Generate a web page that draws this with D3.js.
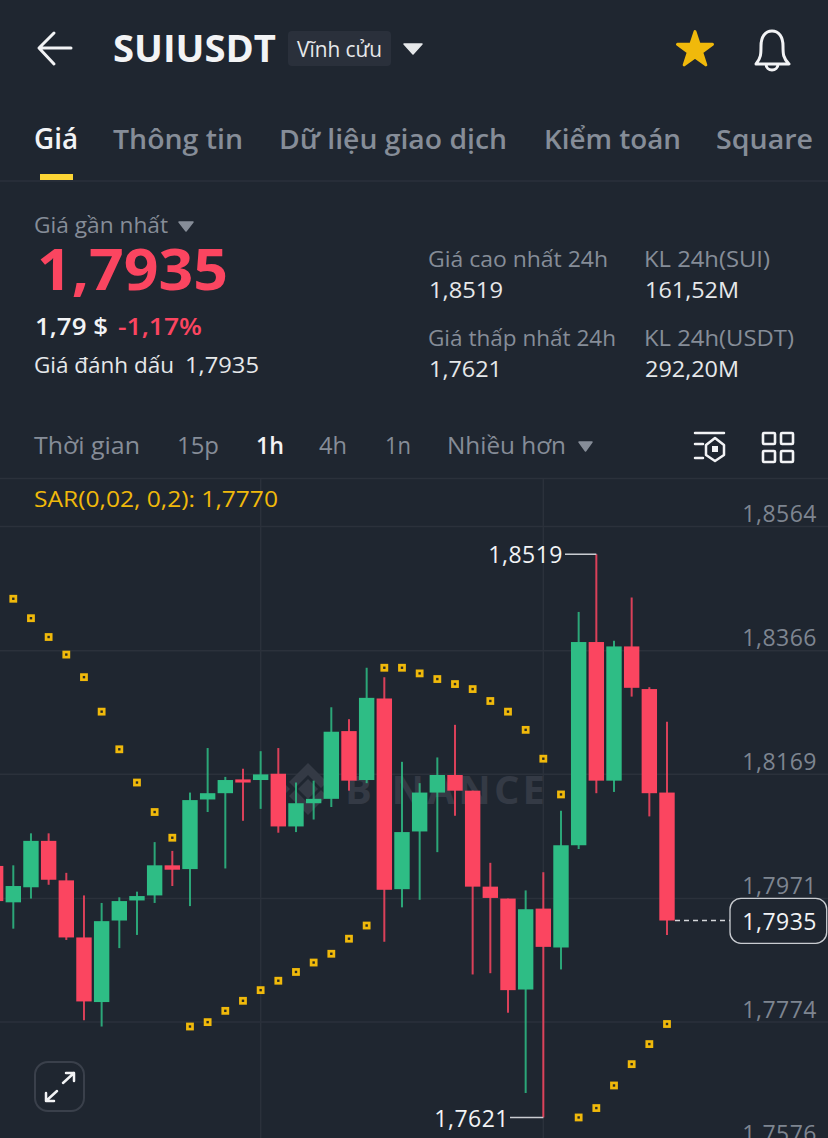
<!DOCTYPE html>
<html><head><meta charset="utf-8">
<script src="https://cdn.jsdelivr.net/npm/d3@7/dist/d3.min.js"></script>
<style>
html,body{margin:0;padding:0;background:#1f2630;overflow:hidden}
svg{display:block}
text{font-family:"Open Sans","Noto Sans",sans-serif}
</style></head><body>
<svg id="c" width="828" height="1138"></svg>
<script>
// ---- chart data (prices), candle index -1 .. 37
const candleIndex = d3.range(-1, 38);
const opens  = [1.8022,1.7964,1.7988,1.8062,1.7999,1.7908,1.7805,1.7935,1.7967,1.7975,1.8023,1.8017,1.8128,1.8138,1.8160,1.8159,1.8169,1.8085,1.8122,1.8129,1.8237,1.8159,1.8289,1.7985,1.8077,1.8139,1.8167,1.8142,1.7989,1.7970,1.7825,1.7954,1.7892,1.8055,1.8379,1.8158,1.8372,1.8304,1.8139];
const closes = [1.7966,1.7990,1.8062,1.8000,1.7908,1.7806,1.7934,1.7966,1.7974,1.8023,1.8016,1.8127,1.8138,1.8159,1.8155,1.8168,1.8085,1.8122,1.8129,1.8236,1.8158,1.8290,1.7984,1.8076,1.8139,1.8167,1.8142,1.7989,1.7971,1.7824,1.7953,1.7893,1.8055,1.8379,1.8158,1.8372,1.8306,1.8138,1.7935];
const highs  = [1.8022,1.8023,1.8074,1.8074,1.8011,1.7975,1.7963,1.7972,1.7981,1.8060,1.8046,1.8139,1.8210,1.8164,1.8177,1.8205,1.8210,1.8155,1.8158,1.8275,1.8256,1.8338,1.8323,1.8188,1.8154,1.8195,1.8247,1.8142,1.8027,1.7970,1.7983,1.8012,1.8110,1.8427,1.8519,1.8381,1.8450,1.8307,1.8252];
const lows   = [1.7966,1.7922,1.7970,1.7992,1.7904,1.7776,1.7766,1.7891,1.7912,1.7963,1.7990,1.7958,1.8108,1.8018,1.8094,1.8113,1.8075,1.8076,1.8096,1.8116,1.8142,1.8154,1.7901,1.7956,1.7968,1.8044,1.8102,1.7849,1.7851,1.7788,1.7660,1.7621,1.7857,1.8049,1.8138,1.8140,1.8292,1.8101,1.7912];
// Parabolic SAR, candle index 0 .. 37
const sarValues = [1.8448,1.8417,1.8387,1.8359,1.8323,1.8268,1.8208,1.8155,1.8108,1.8067,1.7766,1.7773,1.7791,1.7807,1.7824,1.7839,1.7853,1.7868,1.7882,1.7906,1.7927,1.8338,1.8338,1.8329,1.8320,1.8312,1.8304,1.8285,1.8268,1.8239,1.8193,1.8136,1.7621,1.7636,1.7672,1.7706,1.7738,1.7770];
const priceTicks = [1.8564,1.8366,1.8169,1.7971,1.7774,1.7576];
const verticalGridIndex = [14,30];
const lastPrice = 1.7935, dayHigh = 1.8519, dayLow = 1.7621;
const fmt = v => v.toFixed(4).replace('.', ',');

const BG='#1f2630', LINE='#2b313b', GRAY='#868d98', WHITE='#f2f3f5', RED='#fb4560', GREEN='#2ebd85', YEL='#f0b90b';
const svg = d3.select('#c');
svg.append('rect').attr('width',828).attr('height',1138).attr('fill',BG);

// ---- scales
const x = d3.scaleLinear().domain([0,37]).range([13.3,667]);
const y = d3.scaleLinear().domain([1.8564,1.7774]).range([526,1021.5]);
const candles = candleIndex.map((i,k)=>({i,o:opens[k],c:closes[k],h:highs[k],l:lows[k]}));

// ---- grid and axis
const chart = svg.append('g');
chart.selectAll('line.v').data(verticalGridIndex).join('line').attr('class','v')
  .attr('x1',d=>x(d)).attr('x2',d=>x(d)).attr('y1',479).attr('y2',1138).attr('stroke',LINE).attr('stroke-width',1.5);
const axis = chart.append('g').call(d3.axisRight(y).tickValues(priceTicks).tickFormat(fmt).tickSize(828));
axis.select('.domain').remove();
axis.selectAll('line').attr('stroke',LINE).attr('stroke-width',1.5);
axis.selectAll('text').attr('x',817).attr('dy',null).attr('y',-4.5).attr('text-anchor','end')
  .attr('fill','#7e8590').attr('font-size',23).attr('letter-spacing',0.5).style('font-family','"Open Sans"');

// ---- watermark
const wm = chart.append('g').attr('fill','#343a45');
const diamond = (cx,cy,r)=>`M${cx},${cy-r}L${cx+r},${cy}L${cx},${cy+r}L${cx-r},${cy}Z`;
wm.append('path').attr('d',diamond(308,789,10));
wm.append('path').attr('d',`M308,763 L327,782 L321,788 L308,775 L295,788 L289,782Z M308,815 L327,796 L321,790 L308,803 L295,790 L289,796Z`);
wm.append('path').attr('d',diamond(284,789,6)+diamond(332,789,6));
wm.append('text').attr('x',345).attr('y',804).attr('font-size',40).attr('font-weight',700)
  .attr('textLength',200).attr('lengthAdjust','spacing').text('BINANCE');

// ---- candles
const cg = chart.selectAll('g.candle').data(candles).join('g').attr('class','candle')
  .each(function(d){d.col = d.c>=d.o?GREEN:RED;});
cg.append('line').attr('x1',d=>x(d.i)).attr('x2',d=>x(d.i)).attr('y1',d=>y(d.h)).attr('y2',d=>y(d.l))
  .attr('stroke',d=>d.col).attr('stroke-width',2).attr('stroke-opacity',0.85);
cg.append('rect').attr('x',d=>x(d.i)-7.7).attr('width',15.4)
  .attr('y',d=>y(Math.max(d.o,d.c))).attr('height',d=>Math.max(1.5,Math.abs(y(d.o)-y(d.c))))
  .attr('fill',d=>d.col);

// ---- SAR
chart.selectAll('g.sar').data(sarValues).join('g').attr('class','sar')
  .attr('transform',(d,i)=>`translate(${x(i)},${y(d)})`)
  .call(g=>{
    g.append('rect').attr('x',-3.9).attr('y',-3.9).attr('width',7.8).attr('height',7.8).attr('fill',YEL);
    g.append('rect').attr('x',-1.2).attr('y',-1.2).attr('width',2.4).attr('height',2.4).attr('fill','#2a2a22');
  });

// ---- extremes and last price
const hiY=y(dayHigh), loY=y(dayLow), lastY=y(lastPrice);
const ann = svg.append('g');
ann.append('path').attr('d',`M565,${hiY}H${x(33)}`).attr('stroke','#c9ccd1').attr('stroke-width',1.5);
ann.append('path').attr('d',`M510,${loY}H${x(30)}`).attr('stroke','#c9ccd1').attr('stroke-width',1.5);
ann.append('text').attr('x',563).attr('y',hiY+8.5).attr('text-anchor','end').attr('fill',WHITE).attr('font-size',23).attr('letter-spacing',0.5).text(fmt(dayHigh));
ann.append('text').attr('x',509).attr('y',loY+9.5).attr('text-anchor','end').attr('fill',WHITE).attr('font-size',23).attr('letter-spacing',0.5).text(fmt(dayLow));
ann.append('path').attr('d',`M${x(37)+8},${lastY}H730`).attr('stroke','#d5d7da').attr('stroke-width',1.3).attr('stroke-dasharray','5 4');
ann.append('rect').attr('x',730).attr('y',898.3).attr('width',96.7).attr('height',45).attr('rx',11).attr('fill',BG).attr('stroke','#c9ccd1').attr('stroke-width',1.3);
ann.append('text').attr('x',817).attr('y',lastY+9.5).attr('text-anchor','end').attr('fill',WHITE).attr('font-size',23).attr('letter-spacing',0.5).text(fmt(lastPrice));

// ---- header chrome
const labels = [
 ['SUIUSDT',113,62,37.5,WHITE,700,163],
 ['Vĩnh cửu',297,57,21,'#e6e8ea',400,85],
 ['Giá',34,149,28,WHITE,600,44],
 ['Thông tin',113,149,27,GRAY,600,130],
 ['Dữ liệu giao dịch',279,149,27,GRAY,600,228],
 ['Kiểm toán',544,149,27,GRAY,600,137],
 ['Square',716,149,27,GRAY,600,97],
 ['Giá gần nhất',34,233,22,GRAY,400,134],
 ['1,7935',37,290,58,RED,700,191],
 ['1,79 $',35,335,23,WHITE,600,73],
 ['-1,17%',118,335,23,RED,600,84],
 ['Giá đánh dấu',34,373,22,'#e6e8ea',400,140],
 ['1,7935',185,373,22,'#e6e8ea',400,74],
 ['Giá cao nhất 24h',428,267,22,GRAY,400,180],
 ['1,8519',429,298,22,'#e6e8ea',400,74],
 ['KL 24h(SUI)',644,267,22,GRAY,400,126],
 ['161,52M',645,298,22,'#e6e8ea',400,94],
 ['Giá thấp nhất 24h',428,346,22,GRAY,400,188],
 ['1,7621',429,377,22,'#e6e8ea',400,73],
 ['KL 24h(USDT)',644,346,22,GRAY,400,150],
 ['292,20M',645,377,22,'#e6e8ea',400,94],
 ['Thời gian',34,454,24,GRAY,400,106],
 ['15p',177,454,24,GRAY,400,42],
 ['1h',256,454,24,WHITE,600,28],
 ['4h',319,454,24,GRAY,400,28],
 ['1n',385,454,24,GRAY,400,26],
 ['Nhiều hơn',447,454,24,GRAY,400,119],
 ['SAR(0,02, 0,2): 1,7770',34,507,22,YEL,400,244]
];
const ui = svg.append('g');
ui.append('rect').attr('x',288).attr('y',31).attr('width',103).attr('height',35).attr('rx',4).attr('fill','#2a303b');
ui.append('path').attr('d','M0,181H828M0,478.5H828').attr('stroke',LINE).attr('stroke-width',1.5);
ui.append('rect').attr('x',40).attr('y',174).attr('width',33).attr('height',6).attr('fill','#fcd535');
ui.selectAll('text').data(labels).join('text')
  .attr('x',d=>d[1]).attr('y',d=>d[2]).attr('font-size',d=>d[3]).attr('fill',d=>d[4]).attr('font-weight',d=>d[5])
  .attr('textLength',d=>d[6]).attr('lengthAdjust','spacingAndGlyphs').text(d=>d[0]);
const tri=(x0,x1,y0,y1,col)=>ui.append('path').attr('d',`M${x0},${y0}H${x1}L${(x0+x1)/2},${y1}Z`).attr('fill',col).attr('stroke',col).attr('stroke-width',1.5).attr('stroke-linejoin','round');
tri(404,422,44,54,'#e6e8ea'); tri(179,193,222,231,GRAY); tri(579,592,442,451,GRAY);
const pth=(d,w=3,col=WHITE)=>ui.append('path').attr('d',d).attr('fill','none').attr('stroke',col).attr('stroke-width',w).attr('stroke-linecap','round').attr('stroke-linejoin','round');
pth('M40,48H71M54,33L39,48L54,64',3);
ui.append('path').attr('transform','translate(695,50)').attr('d',d3.symbol(d3.symbolStar,380)()).attr('fill',YEL).attr('stroke',YEL).attr('stroke-width',3).attr('stroke-linejoin','round');
pth('M756,64C761,58 761,54 761,46C761,37 765,31 772,31C779,31 783,37 783,46C783,54 783,58 789,64Z M766,64C766,72 778,72 778,64',3);
pth('M695,433H724M695,444H703M695,458H703',2.5);
pth('M715,438L724,445V455L715,461L706,455V445Z',2.5);
ui.append('rect').attr('x',712).attr('y',446).attr('width',6).attr('height',6).attr('fill',WHITE);
[[763,433],[781,433],[763,451],[781,451]].forEach(p=>ui.append('rect').attr('x',p[0]).attr('y',p[1]).attr('width',12).attr('height',11).attr('rx',1).attr('fill','none').attr('stroke',WHITE).attr('stroke-width',2.6));
ui.append('rect').attr('x',35).attr('y',1062).attr('width',49).attr('height',49).attr('rx',13).attr('fill','none').attr('stroke','#3a404b').attr('stroke-width',2);
pth('M63,1083L74,1073M66,1073H74V1081',2.5);
pth('M57,1091L46,1101M46,1093V1101H54',2.5);
</script>
</body></html>
